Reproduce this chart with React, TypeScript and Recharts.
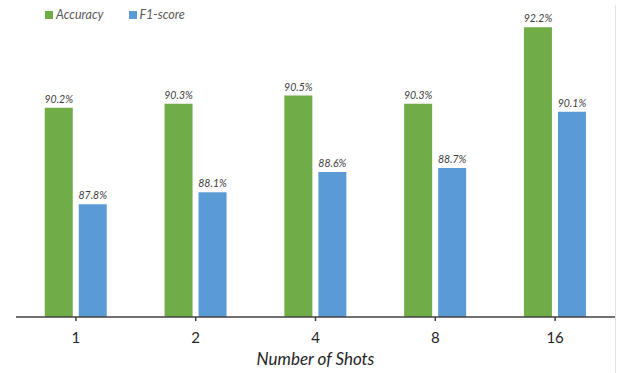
import React from 'react';
import { BarChart, Bar, XAxis, YAxis, Legend, LabelList, Label } from 'recharts';

const categories = ['1', '2', '4', '8', '16'];
const accuracy = [90.2, 90.3, 90.5, 90.3, 92.2];
const f1Score = [87.8, 88.1, 88.6, 88.7, 90.1];
const seriesNames = ['Accuracy', 'F1-score'];
const seriesColors = ['#70AD47', '#5B9BD5'];
const yDomain = [85, 92.75];

const data = categories.map((c, i) => ({ shots: c, acc: accuracy[i], f1: f1Score[i] }));

const FONT = 'Lato, "Open Sans", sans-serif';

const LegendContent = (props: any) => {
  const payload = props.payload || [];
  return (
    <div style={{ display: 'flex', alignItems: 'center', fontFamily: FONT }}>
      {payload.map((p: any, i: number) => (
        <div key={i} style={{ display: 'flex', alignItems: 'center', marginRight: 25 }}>
          <div style={{ width: 8, height: 8, background: p.color }} />
          <span style={{ marginLeft: 3, fontSize: 12.5, fontStyle: 'italic', color: '#595959', lineHeight: '14px' }}>
            {p.value}
          </span>
        </div>
      ))}
    </div>
  );
};

const fmt = (v: any) => `${Number(v).toFixed(1)}%`;

const labelStyle = { fill: '#404040', fontSize: 10.5, fontStyle: 'italic', fontFamily: FONT };

export default function App() {
  return (
    <div style={{ position: 'absolute', left: 0, top: 0, width: 625, height: 373, background: '#fff' }}>
      <div style={{ position: 'absolute', left: 615, top: 5, width: 0, height: 368, borderLeft: '1px solid #e3e3e3' }} />
      <BarChart
        width={625}
        height={373}
        data={data}
        margin={{ top: 5, right: 10, left: 16, bottom: 0 }}
        barCategoryGap="24%"
        barGap={6}
      >
        <YAxis hide domain={yDomain} allowDataOverflow type="number" />
        <XAxis
          dataKey="shots"
          height={56}
          stroke="#404040"
          strokeWidth={1.5}
          tickSize={4}
          tickMargin={11}
          tick={{ fill: '#262626', fontSize: 15, fontFamily: FONT }}
        >
          <Label
            value="Number of Shots"
            position="insideBottom"
            offset={8}
            style={{ fill: '#262626', fontSize: 17, fontStyle: 'italic', fontFamily: FONT }}
          />
        </XAxis>
        <Legend
          layout="horizontal"
          verticalAlign="middle"
          align="center"
          content={<LegendContent />}
          wrapperStyle={{ top: 8, left: 45, width: 'auto', height: 'auto' }}
        />
        <Bar dataKey="acc" name={seriesNames[0]} fill={seriesColors[0]} isAnimationActive={false}>
          <LabelList dataKey="acc" position="top" offset={5} formatter={fmt} style={labelStyle} />
        </Bar>
        <Bar dataKey="f1" name={seriesNames[1]} fill={seriesColors[1]} isAnimationActive={false}>
          <LabelList dataKey="f1" position="top" offset={5} formatter={fmt} style={labelStyle} />
        </Bar>
      </BarChart>
    </div>
  );
}
